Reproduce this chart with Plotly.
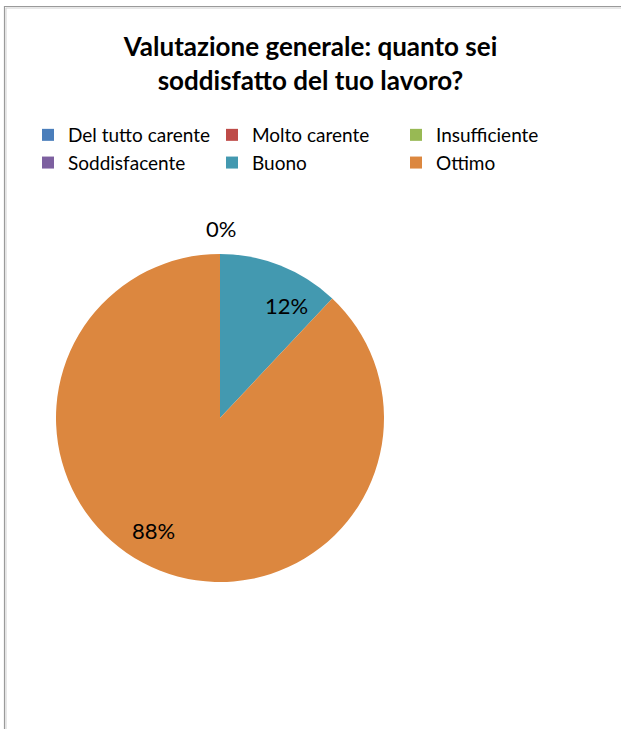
import math
import plotly.graph_objects as go

# Survey answers: overall job satisfaction
categories = ["Del tutto carente", "Molto carente", "Insufficiente",
              "Soddisfacente", "Buono", "Ottimo"]
shares = [0, 0, 0, 0, 12, 88]
colors = ["#4A7EBB", "#BE4B48", "#98B954", "#7D60A0", "#4399B0", "#DC873F"]
title_text = "Valutazione generale: quanto sei<br>soddisfatto del tuo lavoro?"

W, H = 621, 729
FONT = "Lato"

# pie placement in pixels (left, right, top, bottom)
PIE_L, PIE_R, PIE_T, PIE_B = 56, 384, 254, 582
cx, cy = (PIE_L + PIE_R) / 2, (PIE_T + PIE_B) / 2
radius = (PIE_R - PIE_L) / 2

fig = go.Figure(
    go.Pie(
        labels=categories,
        values=shares,
        sort=False,
        direction="clockwise",
        rotation=0,
        marker=dict(colors=colors, line=dict(width=0)),
        textinfo="none",
        domain=dict(x=[PIE_L / W, PIE_R / W], y=[1 - PIE_B / H, 1 - PIE_T / H]),
        hoverinfo="label+percent",
        showlegend=True,
    )
)

# percentage labels: placed along each slice, slightly past its mid-angle
total = sum(shares)
start = 0.0
zero_done = False
for v in shares:
    sweep = 360.0 * v / total
    if v > 0:
        ang = math.radians(start + sweep / 2 + 9)
        px = cx + 0.8 * radius * math.sin(ang)
        py = cy - 0.8 * radius * math.cos(ang)
    elif not zero_done:
        # all empty slices share one label just above the pie
        px, py = cx + 1, PIE_T - 26
        zero_done = True
    else:
        start += sweep
        continue
    fig.add_annotation(
        text=f"{v}%", xref="paper", yref="paper",
        x=px / W, y=1 - py / H, xanchor="center", yanchor="middle",
        showarrow=False,
        font=dict(family=FONT, size=22, color="#000000"),
    )
    start += sweep

# chart frame
fig.add_shape(type="rect", xref="paper", yref="paper",
              x0=4.5 / W, y0=-0.05, x1=1.05, y1=1 - 6.5 / H,
              line=dict(color="#9a9a9a", width=1.2), fillcolor="rgba(0,0,0,0)")
fig.add_shape(type="rect", xref="paper", yref="paper",
              x0=6 / W, y0=-0.05, x1=1.05, y1=1 - 8 / H,
              line=dict(color="#d0d0d0", width=1), fillcolor="rgba(0,0,0,0)")

fig.update_layout(
    width=W, height=H,
    margin=dict(l=0, r=0, t=0, b=0),
    paper_bgcolor="#ffffff",
    plot_bgcolor="#ffffff",
    title=dict(text=title_text, x=0.5, xanchor="center",
               y=1 - 56 / H, yanchor="middle",
               font=dict(family=FONT, size=26, color="#000000", weight="bold")),
    legend=dict(orientation="h", x=28 / W, xanchor="left",
                y=1 - 116 / H, yanchor="top",
                entrywidth=139, entrywidthmode="pixels",
                font=dict(family=FONT, size=19, color="#000000"),
                bgcolor="rgba(0,0,0,0)", tracegroupgap=0, itemwidth=30),
    font=dict(family=FONT),
)

fig.write_html("out.html")
